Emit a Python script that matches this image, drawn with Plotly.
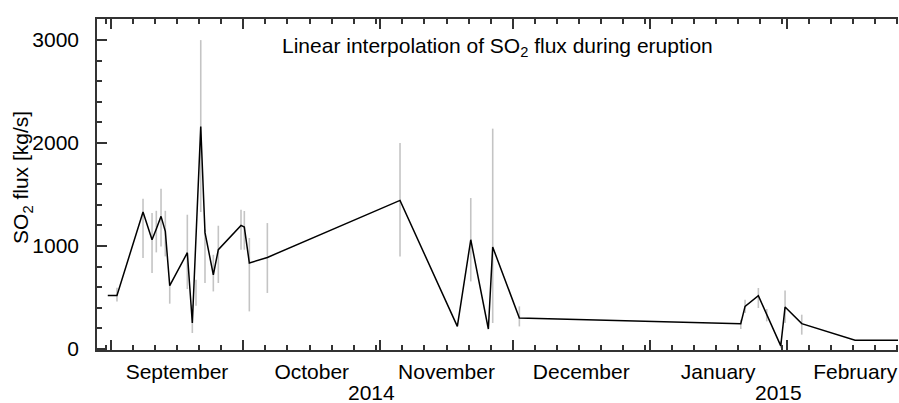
import plotly.graph_objects as go

# --- interpolated flux line ---
line_dates = [
    "2014-08-31 08:00", "2014-09-02 10:00", "2014-09-08 07:30", "2014-09-10 08:30",
    "2014-09-11 07:40", "2014-09-12 09:20", "2014-09-13 08:40", "2014-09-14 08:30",
    "2014-09-18 08:10", "2014-09-19 11:20", "2014-09-21 09:00", "2014-09-22 08:10",
    "2014-09-24 05:20", "2014-09-25 08:30", "2014-09-30 11:45", "2014-10-01 05:45",
    "2014-10-02 09:00", "2014-10-06 10:50", "2014-11-05 11:30", "2014-11-18 10:50",
    "2014-11-21 11:45", "2014-11-25 11:20", "2014-11-26 11:00", "2014-12-02 11:45",
    "2015-01-21 14:25", "2015-01-22 13:40", "2015-01-25 14:00", "2015-01-27 11:30",
    "2015-01-30 15:40", "2015-01-31 15:00", "2015-02-04 09:40", "2015-02-16 11:20",
    "2015-02-28 00:00",
]
line_flux = [
    520, 520, 1330, 1060, 1165, 1288, 1142, 615, 935, 252, 2160, 1130, 721, 964,
    1200, 1184, 835, 889, 1443, 219, 1061, 194, 990, 301, 246, 414, 517, 330, 30,
    408, 246, 84, 84,
]

# --- measurement ranges (grey bars) ---
bar_dates = [
    "2014-09-02 10:00", "2014-09-08 07:30", "2014-09-10 08:30", "2014-09-11 07:40",
    "2014-09-12 09:20", "2014-09-13 08:40", "2014-09-14 08:30", "2014-09-18 08:10",
    "2014-09-19 11:20", "2014-09-20 07:20", "2014-09-21 09:00", "2014-09-22 08:10",
    "2014-09-24 05:20", "2014-09-25 08:30", "2014-09-30 11:45", "2014-10-01 05:45",
    "2014-10-02 09:00", "2014-10-06 10:50", "2014-11-05 11:30", "2014-11-21 11:45",
    "2014-11-26 11:00", "2014-12-02 11:45", "2015-01-21 14:25", "2015-01-22 13:40",
    "2015-01-25 14:00", "2015-01-27 11:30", "2015-01-30 15:40", "2015-01-31 15:00",
    "2015-02-04 09:40",
]
bar_low = [
    462, 883, 738, 938, 996, 899, 440, 582, 155, 420, 1330, 640, 559, 641, 964, 964,
    365, 544, 899, 656, 252, 219, 194, 350, 398, 268, 10, 252, 139,
]
bar_high = [
    595, 1459, 1320, 1342, 1556, 1342, 620, 1304, 430, 673, 3000, 1160, 915, 1197,
    1352, 1340, 1078, 1223, 2000, 1466, 2140, 414, 284, 479, 592, 388, 74, 569, 333,
]

year_labels = ["2014", "2015"]
year_label_dates = ["2014-10-30 03:00", "2015-01-30 01:00"]

y_major = [0, 1000, 2000, 3000]

# minor x ticks on days 1, 6, 11, 16, 21, 26, 31 of each month
months = [("2014", "08", 31), ("2014", "09", 30), ("2014", "10", 31), ("2014", "11", 30),
          ("2014", "12", 31), ("2015", "01", 31), ("2015", "02", 28)]
minor_x = []
for yr, mo, nd in months:
    for d in (1, 6, 11, 16, 21, 26, 31):
        if d <= nd:
            minor_x.append(f"{yr}-{mo}-{d:02d}")

bx, by = [], []
for d, lo, hi in zip(bar_dates, bar_low, bar_high):
    bx += [d, d, None]
    by += [lo, hi, None]

FONT = "Liberation Sans, Arial, Helvetica, sans-serif"
AX = "#333333"
FS = 21

fig = go.Figure()
fig.add_trace(go.Scatter(x=bx, y=by, mode="lines",
                         line=dict(color="#c4c4c4", width=1.6),
                         hoverinfo="skip", showlegend=False))
fig.add_trace(go.Scatter(x=line_dates, y=line_flux, mode="lines",
                         line=dict(color="black", width=1.5),
                         showlegend=False))

fig.update_layout(
    width=899, height=403,
    margin=dict(l=97, r=1, t=19, b=53),
    plot_bgcolor="white", paper_bgcolor="white",
    font=dict(family=FONT, size=FS, color="black"),
    xaxis=dict(
        range=["2014-08-28 21:30", "2015-02-26 04:30"],
        tickmode="linear", tick0="2014-09-01", dtick="M1",
        tickformat="%B", ticklabelmode="period",
        ticks="inside", ticklen=10, tickwidth=1.5, tickcolor=AX,
        minor=dict(tickmode="array", tickvals=minor_x, ticks="inside",
                   ticklen=5, tickwidth=1.5, tickcolor=AX),
        showline=True, linecolor=AX, linewidth=1.5, mirror="ticks",
        showgrid=False, zeroline=False, automargin=False,
        ticklabelstandoff=2,
        tickfont=dict(size=FS),
    ),
    yaxis=dict(
        range=[-10, 3205],
        tickmode="array", tickvals=y_major,
        ticks="inside", ticklen=10, tickwidth=1.5, tickcolor=AX,
        minor=dict(dtick=200, tick0=0, ticks="inside", ticklen=5,
                   tickwidth=1.5, tickcolor=AX),
        showline=True, linecolor=AX, linewidth=1.5, mirror=False,
        showgrid=False, zeroline=False, automargin=False,
        ticklabelstandoff=12,
        tickfont=dict(size=FS),
    ),
)

fig.add_annotation(text="SO<sub>2</sub> flux [kg/s]", textangle=-90,
                   xref="paper", yref="paper", x=-0.0936, y=0.52,
                   xanchor="center", yanchor="middle", showarrow=False,
                   font=dict(size=FS))

fig.add_annotation(text="Linear interpolation of SO<sub>2</sub> flux during eruption",
                   xref="paper", yref="paper", x=0.5, y=0.915,
                   xanchor="center", yanchor="middle", showarrow=False,
                   font=dict(size=FS))

for lbl, d in zip(year_labels, year_label_dates):
    fig.add_annotation(text=lbl, xref="x", yref="paper", x=d, y=-0.128,
                       xanchor="center", yanchor="middle", showarrow=False,
                       font=dict(size=FS))

# remove the default page margin so the 899x403 figure fills the window exactly
fig.write_html(
    "out.html",
    config={"displayModeBar": False},
    post_script="document.body.style.margin='0';"
                "document.documentElement.style.overflow='hidden';",
)
